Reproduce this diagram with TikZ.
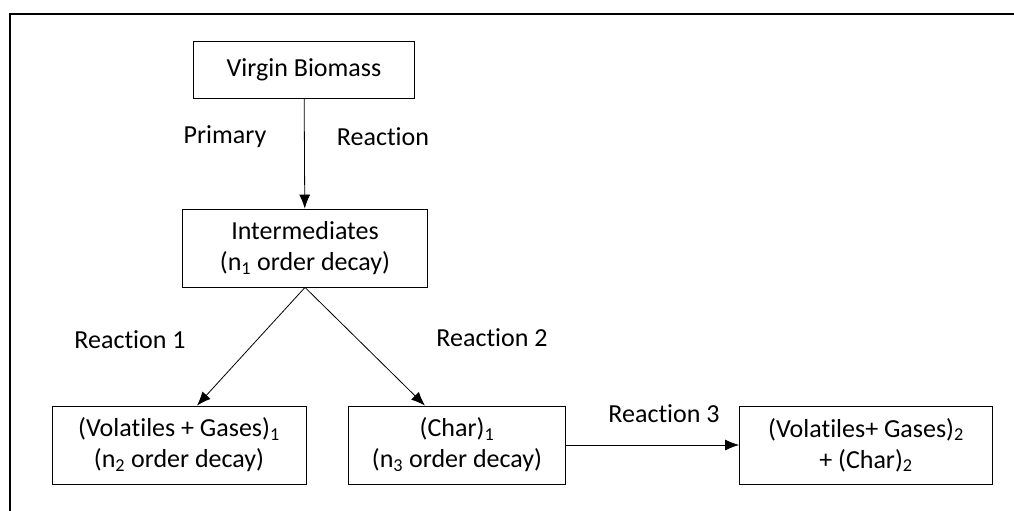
\documentclass[tikz,border=0pt]{standalone}
\usepackage{fontspec}
\setmainfont{Carlito}[Ligatures=NoCommon]
\usetikzlibrary{positioning,arrows.meta}

\begin{document}
\begin{tikzpicture}[x=1pt, y=-1pt, >={Latex[length=14pt,width=11pt]},
    box/.style={draw, thick, align=center, inner sep=0pt,
                font=\fontsize{26}{31}\selectfont},
    lbl/.style={font=\fontsize{26}{31}\selectfont}]
    \useasboundingbox (0,0) rectangle (1014,511);
    \draw[line width=2.2pt] (10,511) -- (10,14) -- (1014,14);

    \node[box, minimum width=221pt, minimum height=57pt](virgin) at (304,70) {Virgin Biomass};
    \node[box, minimum width=245pt, minimum height=78pt](inter) at (305,248)
        {Intermediates\\(n\textsubscript{1} order decay)};
    \node[box, minimum width=254pt, minimum height=78pt](vg1) at (179,445)
        {(Volatiles + Gases)\textsubscript{1}\\(n\textsubscript{2} order decay)};
    \node[box, minimum width=217pt, minimum height=78pt](char1) at (457,445)
        {(Char)\textsubscript{1}\\(n\textsubscript{3} order decay)};
    \node[box, minimum width=253pt, minimum height=78pt](vg2) at (866,445)
        {(Volatiles+ Gases)\textsubscript{2}\\+ (Char)\textsubscript{2}};

    \node[lbl](primary) at (225,137) {Primary};
    \node[lbl](reaction) at (383,137) {Reaction};
    \node[lbl](r1) at (130,340) {Reaction 1};
    \node[lbl](r2) at (492,338) {Reaction 2};
    \node[lbl](r3) at (664,414) {Reaction 3};

    \path[->, thick]
        (virgin) edge (inter)
        (inter.south) edge ([xshift=18pt]vg1.north)
        (inter.south) edge ([xshift=-32pt]char1.north)
        (char1) edge (vg2);
\end{tikzpicture}
\end{document}
